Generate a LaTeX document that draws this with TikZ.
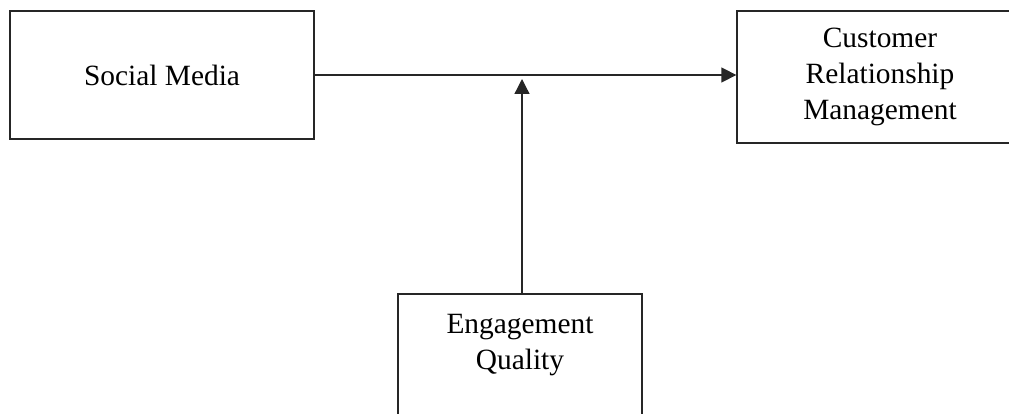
\documentclass[tikz,border=0pt]{standalone}
\usepackage{fontspec}
\setmainfont{Liberation Serif}
\usetikzlibrary{arrows.meta}
\begin{document}
\begin{tikzpicture}[x=1pt,y=-1pt,
  boxnode/.style={draw=black!85, line width=1.3pt, rectangle, inner sep=0pt, align=center,
    font=\fontsize{29.4}{36}\selectfont},
  txt/.style={inner sep=0pt, align=center, font=\fontsize{29.4}{36}\selectfont},
  conn/.style={draw=black!85, line width=1.3pt, -{Triangle[length=15pt,width=15pt]}}]
\useasboundingbox (0,0) rectangle (1009,414);
\clip (0,0) rectangle (1009,414);
\node[boxnode, minimum width=304pt, minimum height=128pt] (sm) at (162,75) {Social Media};
\node[boxnode, minimum width=286pt, minimum height=132pt] (crm) at (880,77) {Customer\\Relationship\\Management};
\node[boxnode, minimum width=244pt, minimum height=136pt] (eq) at (520,362) {};
\node[txt] (eqt) at (520,345) {Engagement\\Quality};
\coordinate (mod) at (522,79);
\draw[conn] (sm.east) -- (crm.west |- sm.east);
\draw[conn] (mod |- eq.north) -- (mod);
\end{tikzpicture}
\end{document}
